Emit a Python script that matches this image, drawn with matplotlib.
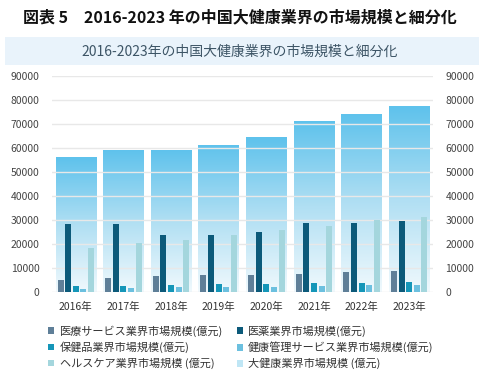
import matplotlib.pyplot as plt
import numpy as np
from matplotlib.patches import Rectangle
from matplotlib.colors import LinearSegmentedColormap

plt.rcParams['font.family'] = ['Noto Sans CJK JP', 'DejaVu Sans']

# データ(億元)
years = ['2016年', '2017年', '2018年', '2019年', '2020年', '2021年', '2022年', '2023年']
iryo_service = [5100, 5700, 6500, 7200, 7200, 7600, 8200, 8600]
iyaku = [28100, 28100, 23800, 23800, 24900, 28900, 28900, 29400]
hokenhin = [2600, 2500, 2900, 3300, 3300, 3700, 3600, 4000]
kenko_kanri = [1400, 1700, 1900, 2200, 2200, 2500, 2800, 2900]
healthcare = [18300, 20200, 21700, 23800, 25600, 27300, 29800, 31300]
dai_kenko = [56000, 59200, 59100, 61300, 64300, 71300, 74200, 77200]

labels = ['医療サービス業界市場規模(億元)', '医薬業界市場規模(億元)',
          '保健品業界市場規模(億元)', '健康管理サービス業界市場規模(億元)',
          'ヘルスケア業界市場規模 (億元)', '大健康業界市場規模 (億元)']
colors = ['#5f7f98', '#0c5a7a', '#1596b8', '#6cc0df', '#a4d6dd', '#bfe6f5']

fig = plt.figure(figsize=(4.93, 3.73), dpi=100)
W, H = 493, 373

# 上のタイトル
fig.text(240 / W, 1 - 17 / H, '図表 5　2016-2023 年の中国大健康業界の市場規模と細分化',
         ha='center', va='center', fontsize=11.5, fontweight='bold', color='#111111')
# 帯
fig.patches.append(Rectangle((5 / W, 1 - 65 / H), 474 / W, 28 / H, transform=fig.transFigure,
                             facecolor='#e9f3fb', edgecolor='none', zorder=0))
fig.text(240 / W, 1 - 52 / H, '2016-2023年の中国大健康業界の市場規模と細分化',
         ha='center', va='center', fontsize=10, color='#3d5566')

ax = fig.add_axes([52 / W, 81 / H, 381 / W, 216.3 / H])
x = np.arange(len(years))

# 大健康(グラデーション)
cmap = LinearSegmentedColormap.from_list('g', ['#f0f9fd', '#b0dff3', '#5ec2ec'])
grad = np.linspace(0, 1, 256).reshape(-1, 1)
big = ax.bar(x, dai_kenko, width=0.85, color=colors[5], zorder=1)
for b in big:
    im = ax.imshow(grad, cmap=cmap, aspect='auto', origin='lower', zorder=1,
                   extent=[b.get_x(), b.get_x() + b.get_width(), 0, b.get_height()])
    im.set_clip_path(b)

series = [iryo_service, iyaku, hokenhin, kenko_kanri, healthcare]
offs = [-0.32, -0.16, 0.0, 0.16, 0.32]
bars = []
for s, o, c in zip(series, offs, colors[:5]):
    bars.append(ax.bar(x + o, s, width=0.125, color=c, zorder=3))

ax.set_xlim(-0.5, 7.5)
ax.set_ylim(0, 90000)
ax.set_yticks(np.arange(0, 90001, 10000))
ax.yaxis.grid(True, color='#e8e8e8', lw=1, zorder=2)
ax.set_axisbelow(False)
for sp in ax.spines.values():
    sp.set_visible(False)
ax.tick_params(length=0, labelsize=7.5, colors='#444444', pad=9)
ax.set_xticks(x)
ax.set_xticklabels(years, fontsize=7.5, color='#333333')
ax.tick_params(axis='x', pad=7)

ax2 = ax.twinx()
ax2.set_ylim(0, 90000)
ax2.set_yticks(np.arange(0, 90001, 10000))
for sp in ax2.spines.values():
    sp.set_visible(False)
ax2.tick_params(length=0, labelsize=7.5, colors='#444444', pad=9)

handles = bars + [big]
order = [0, 2, 4, 1, 3, 5]
fig.legend([handles[i] for i in order], [labels[i] for i in order],
           ncol=2, loc='upper left', bbox_to_anchor=(45 / W, 1 - 322 / H),
           frameon=False, fontsize=8, handlelength=0.55, handleheight=0.55,
           handletextpad=0.5, columnspacing=1.2, labelspacing=0.42,
           borderaxespad=0, borderpad=0.3, labelcolor='#333333')

fig.savefig('out.png', dpi=100)
